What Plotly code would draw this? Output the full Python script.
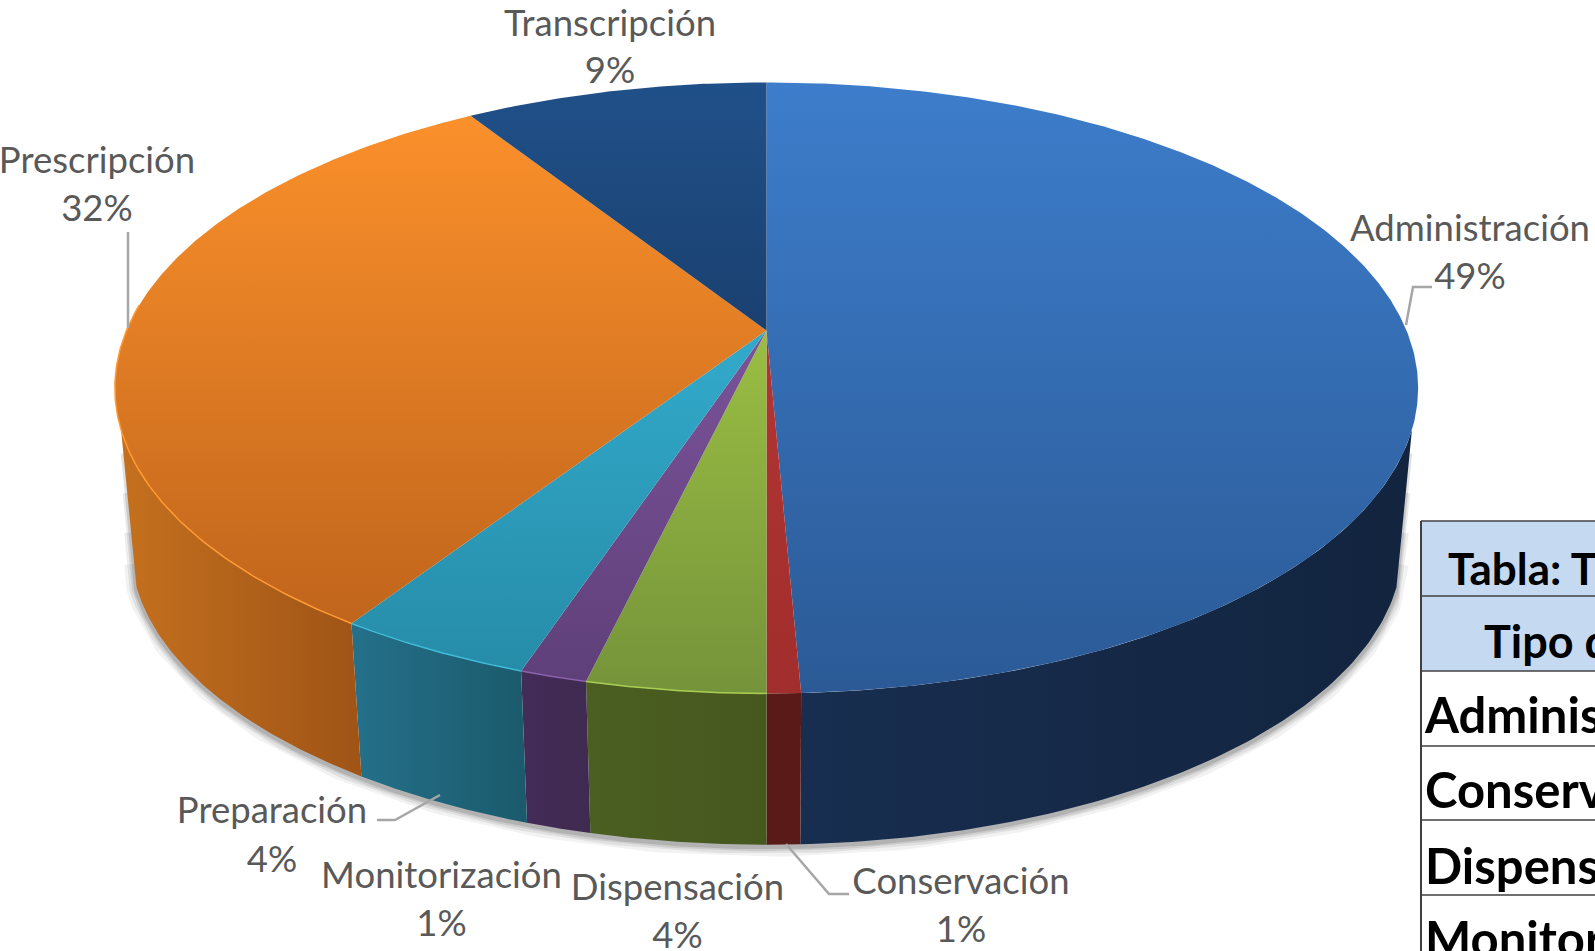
"""Pie 3D de tipos de error, con proyección en perspectiva, y la tabla recortada a la derecha."""
import numpy as np
import plotly.graph_objects as go

# sentido horario desde las 12
categorias = ["Administración", "Conservación", "Dispensación", "Monitorización",
              "Preparación", "Prescripción", "Transcripción"]
valores = [49.3, 0.7, 3.7, 1.4, 4.1, 31.8, 9.0]

filas_tabla = ["Administración", "Conservación", "Dispensación", "Monitorización"]
titulo_tabla = "Tabla: Tipo de error"
cabecera_tabla = "Tipo de error"

# colores de cada porción a la altura de la parte superior e inferior del disco
CARA = {
    "Administración": ("#3d7dcb", "#2b5a96"),
    "Conservación": ("#c03a3a", "#a02e2c"),
    "Dispensación": ("#b4dc4a", "#75933a"),
    "Monitorización": ("#8e60b0", "#5e3f78"),
    "Preparación": ("#3cc0e4", "#258aa6"),
    "Prescripción": ("#ff932c", "#b85f1a"),
    "Transcripción": ("#205089", "#12294a"),
}
LADO = {
    "Administración": ("#182e50", "#12243e"),
    "Conservación": ("#5a1a18", "#5a1a18"),
    "Dispensación": ("#4c5f22", "#46581e"),
    "Monitorización": ("#432c58", "#3f2a50"),
    "Preparación": ("#24708a", "#1b5a6c"),
    "Prescripción": ("#c4701e", "#9f5416"),
}
BRILLO = {
    "Dispensación": "#a9cf52",
    "Monitorización": "#8a62aa",
    "Preparación": "#3fbad8",
    "Prescripción": "#ff9a34",
}

# geometría en píxeles de la imagen
CX, CY = 766.5, 330.5
A, B, K = 640.0, 294.7, 0.188
ESCALA_BASE, ALTO_BASE = 0.976, 160.0
LIMITE_LADO = 108.5
Y_DISCO = (82.5, 693.5)
TEXTO = "#595959"
GUIA = "#a6a6a6"
FUENTE = "Lato"


def proy(grados, base=False):
    t = np.radians(grados)
    w = 1 + K * np.cos(t)
    dx, dy = A * np.sin(t) / w, -B * np.cos(t) / w
    if base:
        return CX + ESCALA_BASE * dx, CY + ESCALA_BASE * dy + ALTO_BASE
    return CX + dx, CY + dy


bordes = np.concatenate([[0], np.cumsum(valores)]) * 3.6
fig = go.Figure()


def linea(x, y, color, ancho):
    fig.add_trace(go.Scatter(x=x, y=y, mode="lines", hoverinfo="skip",
                             line=dict(color=color, width=ancho)))


# sombra alrededor del lateral: cuanto más ancha, más abajo empieza
arco_sombra = np.linspace(LIMITE_LADO, 360 - LIMITE_LADO, 240)
sx, sy = proy(arco_sombra, base=True)
x0, y0 = proy(LIMITE_LADO)
x1, y1 = proy(360 - LIMITE_LADO)
for ancho, alfa, f in [(20, 0.05, 0.85), (14, 0.07, 0.65), (9, 0.09, 0.4), (5, 0.12, 0.15)]:
    linea(np.r_[x0 + f * (sx[0] - x0), sx, x1 + f * (sx[-1] - x1)].tolist(),
          np.r_[y0 + f * (sy[0] - y0), sy + 2, y1 + f * (sy[-1] - y1)].tolist(),
          f"rgba(0,0,0,{alfa})", ancho)

# laterales
for nombre, t0, t1 in zip(categorias, bordes[:-1], bordes[1:]):
    if nombre not in LADO:
        continue
    a0, a1 = max(t0, LIMITE_LADO), min(t1, 360 - LIMITE_LADO)
    arco = np.linspace(a0, a1, 90)
    xs, ys = proy(arco)
    xb, yb = proy(arco[::-1], base=True)
    izq, der = LADO[nombre]
    fig.add_trace(go.Scatter(
        x=np.r_[xs, xb].tolist(), y=np.r_[ys, yb].tolist(), mode="lines", fill="toself",
        line=dict(width=0), hoverinfo="skip",
        fillgradient=dict(type="horizontal", colorscale=[[0, izq], [1, der]]),
    ))

# cara superior, con el degradado común de arriba a abajo
for nombre, t0, t1 in zip(categorias, bordes[:-1], bordes[1:]):
    arco = np.linspace(t0, t1, max(int(t1 - t0) * 2, 12))
    xs, ys = proy(arco)
    sup, inf = CARA[nombre]
    fig.add_trace(go.Scatter(
        x=np.r_[CX, xs, CX].tolist(), y=np.r_[CY, ys, CY].tolist(), mode="lines", fill="toself",
        line=dict(width=0), hoverinfo="skip",
        fillgradient=dict(type="vertical", start=Y_DISCO[0], stop=Y_DISCO[1],
                          colorscale=[[0, sup], [1, inf]]),
    ))

# brillo del borde delantero
for nombre, t0, t1 in zip(categorias, bordes[:-1], bordes[1:]):
    if nombre in BRILLO:
        xs, ys = proy(np.linspace(t0, min(t1, 275), 120))
        linea(xs.tolist(), ys.tolist(), BRILLO[nombre], 1.5)

# líneas guía
for gx, gy in [([1406, 1413, 1432], [325, 287, 287]),
               ([128, 128], [232, 328]),
               ([377, 395, 440], [820, 820, 795]),
               ([786, 829, 849], [844, 894, 894])]:
    linea(gx, gy, GUIA, 2.5)

# etiquetas (nombre, porcentaje)
pos_etiquetas = {
    "Administración": (1470, 232, 280),
    "Conservación": (961, 885, 933),
    "Dispensación": (677.5, 891, 939),
    "Monitorización": (441.5, 879, 927),
    "Preparación": (272, 814, 863),
    "Prescripción": (97, 164, 212),
    "Transcripción": (610, 26.5, 74),
}
for nombre, v in zip(categorias, valores):
    px, y1, y2 = pos_etiquetas[nombre]
    fig.add_trace(go.Scatter(
        x=[px, px], y=[y1, y2], mode="text", text=[nombre, f"{v:.0f}%"], hoverinfo="skip",
        textposition="middle center", textfont=dict(family=FUENTE, size=36.5, color=TEXTO),
    ))

# tabla, cortada por el borde de la imagen
Y_FILAS = [521, 596, 671, 746, 820, 895]
X_TABLA = 1421
for y0, y1 in zip(Y_FILAS[:2], Y_FILAS[1:3]):
    fig.add_shape(type="rect", x0=X_TABLA, x1=1700, y0=y0, y1=y1, layer="below",
                  fillcolor="#c5d9f1", line=dict(width=0))
for y in Y_FILAS:
    fig.add_shape(type="line", x0=X_TABLA, x1=1700, y0=y, y1=y, line=dict(color="#404040", width=1.5))
fig.add_shape(type="line", x0=X_TABLA, x1=X_TABLA, y0=Y_FILAS[0], y1=960, line=dict(color="#404040", width=2))

fig.add_trace(go.Scatter(
    x=[1448, 1484] + [1425] * len(filas_tabla),
    y=[574, 647, 721, 796, 872, 945],
    mode="text", hoverinfo="skip", textposition="middle right",
    text=[f"<b>{s}</b>" for s in [titulo_tabla, cabecera_tabla] + filas_tabla],
    textfont=dict(family=FUENTE, size=[44, 45, 49, 49, 49, 49], color="black"),
))

fig.update_layout(
    width=1595, height=951, margin=dict(l=0, r=0, t=0, b=0), showlegend=False,
    plot_bgcolor="white", paper_bgcolor="white",
    xaxis=dict(range=[0, 1595], visible=False, fixedrange=True),
    yaxis=dict(range=[951, 0], visible=False, fixedrange=True),
)
fig.write_html("out.html", config=dict(displayModeBar=False),
               post_script="document.body.style.margin='0';document.body.style.overflow='hidden';")
